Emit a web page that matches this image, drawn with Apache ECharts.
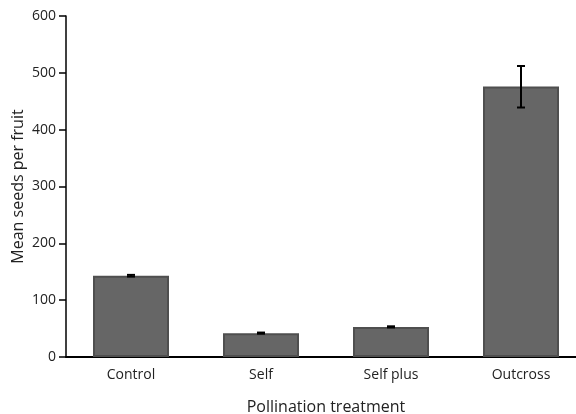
<!DOCTYPE html>
<html><head><meta charset="utf-8">
<script src="https://cdn.jsdelivr.net/npm/echarts@6/dist/echarts.min.js"></script>
<style>html,body{margin:0;padding:0;background:#fff}#c{width:576px;height:414px}</style>
</head><body><div id="c"></div>
<script>
const categories = ['Control', 'Self', 'Self plus', 'Outcross'];
const means = [143, 42, 53, 476];
const errLow = [141.5, 41, 52, 439];
const errHigh = [144.5, 43, 54, 512];
const yTicks = [0, 100, 200, 300, 400, 500, 600];

const chart = echarts.init(document.getElementById('c'));
const font = '"Open Sans", "Noto Sans", sans-serif';
chart.setOption({
  animation: false,
  grid: { left: 66, top: 16, width: 520, bottom: 57, containLabel: false, outerBoundsMode: 'none' },
  xAxis: {
    type: 'category', data: categories,
    name: 'Pollination treatment', nameLocation: 'middle', nameGap: 42, nameMoveOverlap: false,
    nameTextStyle: { fontFamily: font, fontSize: 16, color: '#222' },
    axisLine: { lineStyle: { color: '#000', width: 2 } },
    axisTick: { alignWithLabel: true, length: 7, lineStyle: { color: '#000', width: 1.5 } },
    axisLabel: { fontFamily: font, fontSize: 14, color: '#222', margin: 11 }
  },
  yAxis: {
    type: 'value', min: yTicks[0], max: yTicks[yTicks.length - 1], interval: 100,
    name: 'Mean seeds per fruit', nameLocation: 'middle', nameGap: 40, nameMoveOverlap: false,
    nameTextStyle: { fontFamily: font, fontSize: 16, color: '#222' },
    axisLine: { show: true, lineStyle: { color: '#000', width: 1.5 } },
    axisTick: { show: true, length: 7, lineStyle: { color: '#000', width: 1.5 } },
    axisLabel: { fontFamily: font, fontSize: 14, color: '#222', margin: 10 },
    splitLine: { show: false }
  },
  series: [
    {
      type: 'bar', data: means, barWidth: 76,
      itemStyle: { color: '#666666', borderColor: '#4f4f4f', borderWidth: 2 }
    },
    {
      type: 'custom',
      data: categories.map((c, i) => [i, errLow[i], errHigh[i]]),
      renderItem: function (params, api) {
        const lo = api.coord([api.value(0), api.value(1)]);
        const hi = api.coord([api.value(0), api.value(2)]);
        const x = lo[0], w = 4;
        const st = { stroke: '#000', lineWidth: 2 };
        return {
          type: 'group',
          children: [
            { type: 'line', shape: { x1: x, y1: lo[1], x2: x, y2: hi[1] }, style: st },
            { type: 'line', shape: { x1: x - w, y1: lo[1], x2: x + w, y2: lo[1] }, style: st },
            { type: 'line', shape: { x1: x - w, y1: hi[1], x2: x + w, y2: hi[1] }, style: st }
          ]
        };
      },
      z: 10
    }
  ]
});
</script></body></html>
